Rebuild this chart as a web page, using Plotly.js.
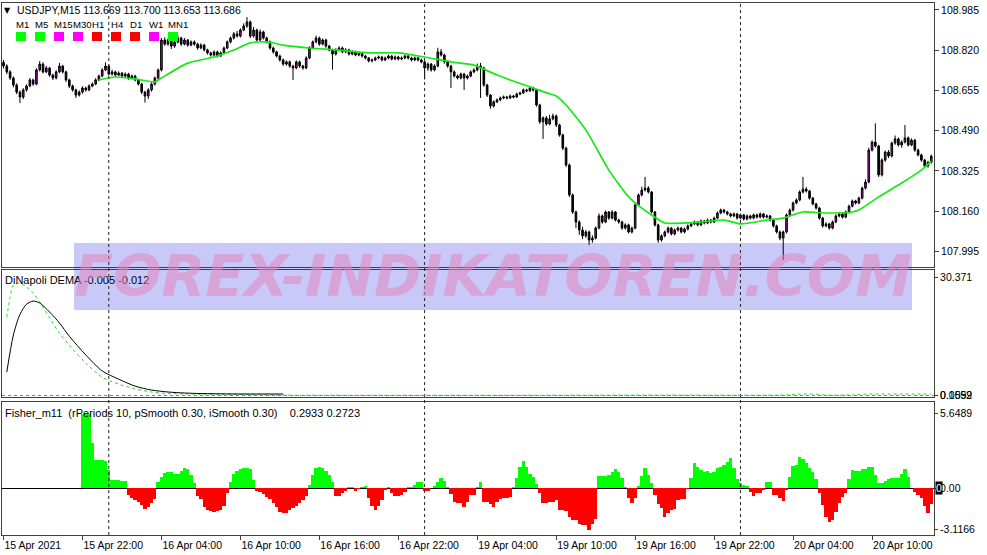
<!DOCTYPE html>
<html><head><meta charset="utf-8">
<script src="https://cdn.plot.ly/plotly-3.0.1.min.js"></script>
<style>html,body{margin:0;padding:0;background:#fff}#chart{width:987px;height:555px}</style>
</head><body><div id="chart"></div>
<script>
// ---------------- DATA ----------------
const openP = [
108.770,108.755,108.731,108.706,108.677,108.648,108.628,108.657,108.673,108.698,
108.681,108.739,108.763,108.731,108.747,108.718,108.706,108.731,108.755,108.731,
108.698,108.673,108.657,108.636,108.648,108.665,108.657,108.673,108.681,108.698,
108.714,108.739,108.755,108.722,108.731,108.718,108.726,108.714,108.722,108.706,
108.714,108.698,108.681,108.648,108.632,108.657,108.681,108.706,108.739,108.862,
108.845,108.862,108.837,108.854,108.870,108.845,108.862,108.841,108.854,108.845,
108.829,108.841,108.821,108.809,108.800,108.813,108.796,108.809,108.829,108.854,
108.870,108.887,108.878,108.903,108.919,108.936,108.878,108.903,108.862,108.895,
108.870,108.854,108.829,108.813,108.796,108.780,108.763,108.772,108.755,108.747,
108.772,108.755,108.747,108.788,108.829,108.854,108.870,108.845,108.862,108.837,
108.821,108.804,108.821,108.829,108.813,108.821,108.804,108.813,108.800,108.809,
108.796,108.788,108.776,108.780,108.788,108.792,108.780,108.788,108.796,108.784,
108.792,108.784,108.788,108.796,108.788,108.780,108.788,108.780,108.772,108.747,
108.763,108.739,108.755,108.813,108.800,108.772,108.755,108.731,108.714,108.706,
108.722,108.706,108.714,108.731,108.739,108.755,108.747,108.677,108.636,108.591,
108.608,108.616,108.624,108.628,108.624,108.632,108.628,108.640,108.644,108.657,
108.653,108.665,108.657,108.595,108.526,108.542,108.517,108.538,108.550,108.513,
108.472,108.418,108.349,108.226,108.156,108.115,108.082,108.058,108.074,108.041,
108.049,108.090,108.140,108.115,108.156,108.131,108.156,108.123,108.115,108.090,
108.103,108.074,108.090,108.185,108.226,108.246,108.254,108.238,108.156,108.103,
108.041,108.058,108.074,108.090,108.066,108.082,108.090,108.074,108.086,108.099,
108.107,108.115,108.103,108.119,108.111,108.123,108.115,108.131,108.152,108.164,
108.156,108.148,108.140,108.148,108.131,108.144,108.127,108.140,108.131,108.144,
108.135,108.148,108.135,108.140,108.123,108.099,108.074,108.049,108.074,108.144,
108.164,108.193,108.205,108.238,108.250,108.242,108.213,108.189,108.172,108.131,
108.099,108.107,108.090,108.115,108.140,108.148,108.135,108.156,108.180,108.201,
108.193,108.213,108.254,108.279,108.410,108.443,108.427,108.308,108.369,108.402,
108.386,108.439,108.456,108.431,108.443,108.460,108.431,108.451,108.410,108.390,
108.369,108.345,108.360];
const highP = [
108.780,108.762,108.738,108.712,108.684,108.655,108.664,108.680,108.706,108.703,
108.746,108.775,108.770,108.755,108.752,108.723,108.738,108.768,108.760,108.736,
108.703,108.679,108.662,108.655,108.672,108.670,108.680,108.688,108.705,108.720,
108.746,108.770,108.760,108.740,108.736,108.733,108.731,108.729,108.727,108.720,
108.719,108.703,108.686,108.653,108.664,108.688,108.712,108.745,108.870,108.873,
108.868,108.867,108.860,108.880,108.875,108.870,108.866,108.860,108.860,108.850,
108.848,108.846,108.826,108.814,108.819,108.818,108.815,108.835,108.860,108.876,
108.895,108.899,108.910,108.930,108.956,108.942,108.915,108.908,108.905,108.900,
108.876,108.860,108.835,108.818,108.802,108.786,108.778,108.778,108.760,108.778,
108.777,108.760,108.795,108.836,108.860,108.880,108.876,108.868,108.867,108.842,
108.826,108.828,108.836,108.835,108.828,108.826,108.820,108.818,108.815,108.813,
108.800,108.792,108.786,108.794,108.798,108.797,108.794,108.802,108.800,108.798,
108.797,108.794,108.802,108.800,108.793,108.794,108.792,108.785,108.777,108.770,
108.768,108.762,108.830,108.825,108.806,108.778,108.760,108.737,108.720,108.728,
108.727,108.720,108.737,108.746,108.765,108.768,108.752,108.682,108.640,108.614,
108.622,108.630,108.634,108.633,108.638,108.636,108.646,108.650,108.663,108.662,
108.672,108.670,108.662,108.600,108.548,108.550,108.555,108.560,108.556,108.518,
108.478,108.424,108.355,108.232,108.162,108.122,108.095,108.082,108.080,108.060,
108.097,108.150,108.146,108.162,108.160,108.163,108.160,108.128,108.120,108.110,
108.108,108.096,108.192,108.232,108.260,108.300,108.262,108.242,108.160,108.108,
108.064,108.080,108.096,108.095,108.088,108.096,108.095,108.092,108.105,108.113,
108.121,108.119,108.125,108.124,108.129,108.127,108.137,108.158,108.170,108.168,
108.161,108.153,108.154,108.152,108.150,108.148,108.146,108.145,108.150,108.149,
108.154,108.152,108.146,108.144,108.128,108.104,108.080,108.080,108.150,108.170,
108.199,108.212,108.245,108.300,108.258,108.247,108.218,108.194,108.177,108.136,
108.114,108.112,108.121,108.146,108.154,108.153,108.162,108.186,108.207,108.206,
108.219,108.260,108.290,108.420,108.450,108.520,108.432,108.376,108.408,108.410,
108.445,108.470,108.462,108.450,108.513,108.466,108.458,108.456,108.416,108.396,
108.374,108.366,108.392];
const lowP = [
108.745,108.722,108.698,108.668,108.640,108.603,108.620,108.650,108.668,108.674,
108.676,108.733,108.724,108.726,108.711,108.698,108.700,108.726,108.724,108.690,
108.665,108.650,108.624,108.630,108.642,108.650,108.652,108.668,108.676,108.693,
108.709,108.734,108.716,108.716,108.712,108.713,108.707,108.708,108.699,108.700,
108.692,108.675,108.640,108.605,108.620,108.650,108.675,108.700,108.733,108.838,
108.838,108.825,108.830,108.848,108.838,108.840,108.834,108.836,108.838,108.822,
108.824,108.815,108.802,108.794,108.795,108.790,108.792,108.804,108.824,108.848,
108.864,108.872,108.872,108.898,108.912,108.870,108.872,108.855,108.857,108.864,
108.848,108.822,108.806,108.790,108.773,108.756,108.757,108.748,108.698,108.742,
108.748,108.740,108.742,108.783,108.824,108.848,108.838,108.840,108.830,108.815,
108.740,108.798,108.815,108.807,108.808,108.798,108.799,108.795,108.795,108.790,
108.782,108.770,108.770,108.775,108.783,108.774,108.775,108.783,108.778,108.779,
108.778,108.779,108.783,108.782,108.774,108.775,108.774,108.766,108.700,108.735,
108.732,108.733,108.750,108.794,108.765,108.748,108.665,108.708,108.700,108.700,
108.657,108.700,108.709,108.726,108.733,108.624,108.670,108.628,108.580,108.584,
108.603,108.611,108.619,108.618,108.620,108.622,108.624,108.635,108.640,108.647,
108.649,108.650,108.588,108.518,108.456,108.510,108.512,108.532,108.505,108.465,
108.410,108.340,108.218,108.148,108.090,108.062,108.045,108.050,108.021,108.030,
108.043,108.085,108.108,108.110,108.124,108.126,108.117,108.108,108.083,108.084,
108.068,108.068,108.085,108.180,108.220,108.240,108.232,108.150,108.096,108.030,
108.034,108.052,108.068,108.060,108.060,108.076,108.068,108.068,108.080,108.094,
108.102,108.097,108.098,108.105,108.106,108.109,108.110,108.126,108.147,108.150,
108.142,108.134,108.135,108.125,108.126,108.121,108.122,108.125,108.126,108.129,
108.130,108.129,108.130,108.117,108.092,108.068,108.040,107.959,108.068,108.138,
108.158,108.188,108.200,108.232,108.236,108.207,108.183,108.166,108.124,108.092,
108.093,108.084,108.085,108.110,108.134,108.129,108.130,108.150,108.175,108.187,
108.188,108.208,108.248,108.274,108.404,108.420,108.300,108.302,108.362,108.378,
108.380,108.432,108.425,108.420,108.437,108.425,108.426,108.403,108.384,108.362,
108.340,108.338,108.355];
const closeP = [
108.755,108.731,108.706,108.677,108.648,108.628,108.657,108.673,108.698,108.681,
108.739,108.763,108.731,108.747,108.718,108.706,108.731,108.755,108.731,108.698,
108.673,108.657,108.636,108.648,108.665,108.657,108.673,108.681,108.698,108.714,
108.739,108.755,108.722,108.731,108.718,108.726,108.714,108.722,108.706,108.714,
108.698,108.681,108.648,108.632,108.657,108.681,108.706,108.739,108.862,108.845,
108.862,108.837,108.854,108.870,108.845,108.862,108.841,108.854,108.845,108.829,
108.841,108.821,108.809,108.800,108.813,108.796,108.809,108.829,108.854,108.870,
108.887,108.878,108.903,108.919,108.936,108.878,108.903,108.862,108.895,108.870,
108.854,108.829,108.813,108.796,108.780,108.763,108.772,108.755,108.747,108.772,
108.755,108.747,108.788,108.829,108.854,108.870,108.845,108.862,108.837,108.821,
108.804,108.821,108.829,108.813,108.821,108.804,108.813,108.800,108.809,108.796,
108.788,108.776,108.780,108.788,108.792,108.780,108.788,108.796,108.784,108.792,
108.784,108.788,108.796,108.788,108.780,108.788,108.780,108.772,108.747,108.763,
108.739,108.755,108.813,108.800,108.772,108.755,108.731,108.714,108.706,108.722,
108.706,108.714,108.731,108.739,108.755,108.747,108.677,108.636,108.591,108.608,
108.616,108.624,108.628,108.624,108.632,108.628,108.640,108.644,108.657,108.653,
108.665,108.657,108.595,108.526,108.542,108.517,108.538,108.550,108.513,108.472,
108.418,108.349,108.226,108.156,108.115,108.082,108.058,108.074,108.041,108.049,
108.090,108.140,108.115,108.156,108.131,108.156,108.123,108.115,108.090,108.103,
108.074,108.090,108.185,108.226,108.246,108.254,108.238,108.156,108.103,108.041,
108.058,108.074,108.090,108.066,108.082,108.090,108.074,108.086,108.099,108.107,
108.115,108.103,108.119,108.111,108.123,108.115,108.131,108.152,108.164,108.156,
108.148,108.140,108.148,108.131,108.144,108.127,108.140,108.131,108.144,108.135,
108.148,108.135,108.140,108.123,108.099,108.074,108.049,108.074,108.144,108.164,
108.193,108.205,108.238,108.250,108.242,108.213,108.189,108.172,108.131,108.099,
108.107,108.090,108.115,108.140,108.148,108.135,108.156,108.180,108.201,108.193,
108.213,108.254,108.279,108.410,108.443,108.427,108.308,108.369,108.402,108.386,
108.439,108.456,108.431,108.443,108.460,108.431,108.451,108.410,108.390,108.369,
108.345,108.360,108.385];

// green moving average (bar index, price)
const maBars = [29,34,40,46,48,56,64,70,75,80,85,93,101,111,120,128,136,143,150,154,161,165,168,171,177,184,190,194,197,201,212,219,224,232,237,243,250,258,260,266,273,279,282];
const maVals = [108.698,108.710,108.702,108.690,108.706,108.767,108.792,108.821,108.850,108.854,108.841,108.829,108.821,108.809,108.809,108.792,108.772,108.759,108.718,108.698,108.665,108.645,108.632,108.595,108.493,108.328,108.218,108.172,108.144,108.111,108.115,108.123,108.107,108.123,108.131,108.156,108.152,108.156,108.164,108.218,108.275,108.328,108.365];

// DiNapoli DEMA panel
const demaBars   = [1,3,5,7,9,11,14,17,20,25,30,35,40,45,50,55,60,70,85];
const demaMain   = [6.0,15.5,20.8,23.4,24.2,23.7,21.4,18.6,15.2,10.4,6.3,4.2,2.4,1.4,0.9,0.64,0.5,0.4,0.38];
const sigBars    = [1,2,3,5,7,9,11,14,17,20,25,30,35,40,45,50,55,60,70,85,150,200,238,241,247,250,258,262,282];
const demaSignal = [20.1,25.2,28.3,28.8,27.8,26.3,24.0,19.9,16.0,12.9,8.3,4.7,2.9,1.7,0.9,0.5,0.4,0.35,0.3,0.1,0.05,0.1,0.15,0.35,0.35,0.1,0.15,0.35,0.35];
const demaLevel = 0;

// Fisher_m11 histogram, first value at bar 24
const fisherStart = 24;
const fisherVals = [
5.6489,5.63,5.6,3.45,2.14,2.12,2.1,2.08,1.38,0.63,
0.6,0.6,0.55,0.55,-0.5,-0.75,-0.89,-1.0,-1.25,-1.59,
-1.44,-1.11,-0.78,0.5,0.89,1.17,1.25,1.22,1.08,1.11,
1.28,1.5,1.44,1.0,0.39,-0.55,-0.78,-1.39,-1.67,-1.72,
-1.78,-1.72,-1.61,-1.33,-0.39,0.5,1.11,1.33,1.44,1.55,
1.5,1.44,0.61,-0.22,-0.28,-0.44,-0.67,-0.78,-1.11,-1.44,
-1.78,-1.89,-1.83,-1.67,-1.5,-1.33,-1.11,-0.89,-0.55,0.22,
1.0,1.5,1.63,1.55,1.33,1.0,0.5,-0.61,-0.55,-0.39,
-0.17,0.06,0.08,-0.22,-0.06,0.11,0.17,-0.72,-1.33,-1.61,
-1.33,-0.89,-0.11,0.11,-0.39,-0.55,-0.61,-0.5,-0.28,0.11,
0.06,0.22,0.5,0.5,-0.22,-0.17,0.02,0.17,0.5,0.78,
0.55,0.06,-0.44,-1.0,-1.11,-1.11,-1.39,-1.05,-0.5,-0.5,
0.11,0.5,-1.0,-1.0,-1.19,-1.39,-1.0,-0.83,-0.7,-0.7,
-0.67,0.06,0.81,1.63,2.06,1.63,1.08,0.83,0.3,-0.38,
-1.08,-1.08,-1.0,-1.0,-0.89,-1.63,-1.63,-1.71,-2.14,-2.39,
-2.39,-2.72,-2.78,-2.78,-3.1166,-2.72,-2.32,0.93,0.93,0.93,
1.0,1.25,1.43,1.25,0.75,0.12,-0.75,-1.11,-0.7,0.18,
0.93,1.51,1.0,0.38,-0.5,-1.22,-1.51,-2.14,-1.89,-1.67,
-1.59,-0.89,-0.83,-0.78,-0.08,0.75,1.89,1.61,1.39,1.25,
1.33,1.13,1.25,1.5,1.59,1.78,2.01,2.26,1.51,0.67,
0.38,0.26,0.18,-0.26,-0.58,-0.38,-0.33,-0.12,0.46,0.46,
-0.5,-0.5,-0.75,-0.95,-0.11,0.89,1.69,1.78,2.39,2.19,
1.89,1.51,1.25,0.68,-0.38,-1.25,-2.14,-2.52,-2.39,-1.76,
-1.13,-0.63,-0.33,0.7,1.39,1.33,1.33,1.44,1.44,1.63,
1.63,1.0,0.43,0.43,0.58,0.67,0.75,0.75,0.75,1.08,
1.45,0.89,0.05,-0.26,-0.5,-0.75,-1.33,-1.89,-1.19];

const timeTickBars = [0,24,48,72,96,120,144,168,192,216,240,264];
const timeTickLabels = ['15 Apr 2021','15 Apr 22:00','16 Apr 04:00','16 Apr 10:00','16 Apr 16:00','16 Apr 22:00','19 Apr 04:00','19 Apr 10:00','19 Apr 16:00','19 Apr 22:00','20 Apr 04:00','20 Apr 10:00'];
const daySeparatorBars = [32,128,224];
const priceTicks = [108.985,108.820,108.655,108.490,108.325,108.160,107.995];
const priceTickLabels = ['108.985','108.820','108.655','108.490','108.325','108.160','107.995'];
const demaTicks = [30.371,0.0592,0.1059];
const demaTickLabels = ['30.371','0.0592','0.1059'];
const fisherTicks = [5.6489,0,-3.1166];
const fisherTickLabels = ['5.6489','0.00','-3.1166'];
const tfNames = ['M1','M5','M15','M30','H1','H4','D1','W1','MN1'];
const tfColors = ['#00ff00','#00ff00','#ff00ff','#ff00ff','#ff0000','#ff0000','#ff0000','#ff00ff','#00ff00'];
const headerText = 'USDJPY,M15 113.669 113.700 113.653 113.686';
const demaLabel = 'DiNapoli DEMA -0.005 -0.012';
const fisherLabel = 'Fisher_m11&nbsp;&nbsp;(rPeriods 10, pSmooth 0.30, iSmooth 0.30)&nbsp;&nbsp;&nbsp;&nbsp;0.2933 0.2723';

// ---------------- LAYOUT HELPERS ----------------
const PL = 2, PR = 934, PT = 3, PB = 535;
const px = x => (x - PL) / (PR - PL);
const py = y => (PB - y) / (PB - PT);
const FONT = 'Liberation Sans, Arial, sans-serif';

const bars = closeP.map((_, i) => i);
const fisherBars = fisherVals.map((_, i) => i + fisherStart);
const xRange = [-0.46, 282.83];

const traces = [
  {type:'candlestick', x:bars, open:openP, high:highP, low:lowP, close:closeP,
   xaxis:'x', yaxis:'y', whiskerwidth:0,
   increasing:{line:{color:'#000000', width:1}, fillcolor:'#a010a0'},
   decreasing:{line:{color:'#000000', width:1}, fillcolor:'#000000'},
   showlegend:false, hoverinfo:'skip'},
  {type:'scatter', mode:'lines', x:maBars, y:maVals, xaxis:'x', yaxis:'y',
   line:{color:'#14ea14', width:1.7, shape:'spline', smoothing:0.6}, showlegend:false, hoverinfo:'skip'},
  {type:'scatter', mode:'lines', x:sigBars, y:demaSignal, xaxis:'x2', yaxis:'y2',
   line:{color:'#22dd22', width:1, dash:'dot', shape:'spline', smoothing:0.8}, showlegend:false, hoverinfo:'skip'},
  {type:'scatter', mode:'lines', x:demaBars, y:demaMain, xaxis:'x2', yaxis:'y2',
   line:{color:'#000000', width:1, shape:'spline', smoothing:0.8}, showlegend:false, hoverinfo:'skip'},
  {type:'bar', x:fisherBars, y:fisherVals, xaxis:'x3', yaxis:'y3', width:1,
   marker:{color:fisherVals.map(v => v >= 0 ? '#00ff00' : '#ff0000'), line:{width:0}},
   showlegend:false, hoverinfo:'skip'}
];

const axisBase = {showgrid:false, zeroline:false, showline:true, mirror:true, linecolor:'#404040', linewidth:1,
  tickfont:{family:FONT, size:10.5, color:'#000'}, fixedrange:true};

const shapes = [];
// watermark box
shapes.push({type:'rect', xref:'paper', yref:'paper', x0:px(74), x1:px(912), y0:py(310), y1:py(243),
  fillcolor:'#c9c9f9', line:{width:0}, layer:'below'});
// day separators
daySeparatorBars.forEach(b => shapes.push({type:'line', xref:'x', yref:'paper', x0:b, x1:b, y0:0, y1:1,
  line:{color:'#222', width:1, dash:'dot'}, layer:'above'}));
// DEMA level line
shapes.push({type:'line', xref:'paper', yref:'y2', x0:0, x1:1, y0:demaLevel, y1:demaLevel,
  line:{color:'#ff3fa6', width:1, dash:'dot'}});
// timeframe squares
tfNames.forEach((n, k) => shapes.push({type:'rect', xref:'paper', yref:'paper',
  x0:px(16 + 19*k), x1:px(26 + 19*k), y0:py(41), y1:py(32), fillcolor:tfColors[k], line:{width:0}}));

const tfLabelX = [15,34,53,72,91,110,129,148,167];
const annotations = [];
const txt = (text, x, y, opts) => Object.assign({text, xref:'paper', yref:'paper', x:px(x), y:py(y),
  xanchor:'left', yanchor:'middle', showarrow:false, borderpad:0,
  font:{family:FONT, size:11, color:'#000'}}, opts || {});
annotations.push(txt('▼', 3, 10, {font:{family:'DejaVu Sans', size:8, color:'#000'}}));
annotations.push(txt(headerText, 16, 10, {font:{family:FONT, size:10.5, color:'#000'}}));
tfNames.forEach((n, k) => annotations.push(txt(n, tfLabelX[k], 25, {font:{family:FONT, size:9.6, color:'#000'}})));
annotations.push(txt(demaLabel, 4, 280));
annotations.push(txt(fisherLabel, 4, 413));
annotations.push({text:'<b><i>FOREX-INDIKATOREN.COM</i></b>', xref:'paper', yref:'paper', x:px(493), y:py(276),
  xanchor:'center', yanchor:'middle', showarrow:false,
  font:{family:'DejaVu Sans', size:57, color:'rgba(225,133,190,0.55)'}});
annotations.push({text:'0', xref:'paper', yref:'y3', x:px(935), y:0, xanchor:'left', yanchor:'middle',
  showarrow:false, bgcolor:'#000', borderpad:0, font:{family:FONT, size:10.5, color:'#fff'}});

const layout = {
  width:987, height:555, margin:{l:PL, r:987-PR, t:PT, b:555-PB},
  paper_bgcolor:'#ffffff', plot_bgcolor:'rgba(0,0,0,0)', showlegend:false, bargap:0,
  xaxis: Object.assign({}, axisBase, {domain:[0,1], anchor:'y', range:xRange, autorange:false,
    showticklabels:false, ticks:'', rangeslider:{visible:false}}),
  xaxis2: Object.assign({}, axisBase, {domain:[0,1], anchor:'y2', range:xRange, autorange:false, matches:'x',
    showticklabels:false, ticks:''}),
  xaxis3: Object.assign({}, axisBase, {domain:[0,1], anchor:'y3', range:xRange, autorange:false, matches:'x',
    tickmode:'array', tickvals:timeTickBars, ticktext:timeTickLabels, ticks:'outside', ticklen:4,
    tickcolor:'#404040', ticklabelposition:'outside right'}),
  yaxis: Object.assign({}, axisBase, {domain:[py(267), 1], anchor:'x', side:'right',
    range:[107.9303, 109.0137], autorange:false, tickmode:'array', tickvals:priceTicks, ticktext:priceTickLabels,
    ticks:'outside', ticklen:4, tickcolor:'#404040'}),
  yaxis2: Object.assign({}, axisBase, {domain:[py(397), py(270)], anchor:'x2', side:'right',
    range:[-0.384, 32.17], autorange:false, tickmode:'array', tickvals:demaTicks, ticktext:demaTickLabels,
    ticks:'outside', ticklen:3, tickcolor:'#404040'}),
  yaxis3: Object.assign({}, axisBase, {domain:[0, py(402)], anchor:'x3', side:'right',
    range:[-3.53, 6.52], autorange:false, tickmode:'array', tickvals:fisherTicks, ticktext:fisherTickLabels,
    ticks:'outside', ticklen:3, tickcolor:'#404040', zeroline:true, zerolinecolor:'#000', zerolinewidth:1}),
  shapes, annotations
};

Plotly.newPlot('chart', traces, layout, {staticPlot:true, displayModeBar:false});
</script>
</body></html>
